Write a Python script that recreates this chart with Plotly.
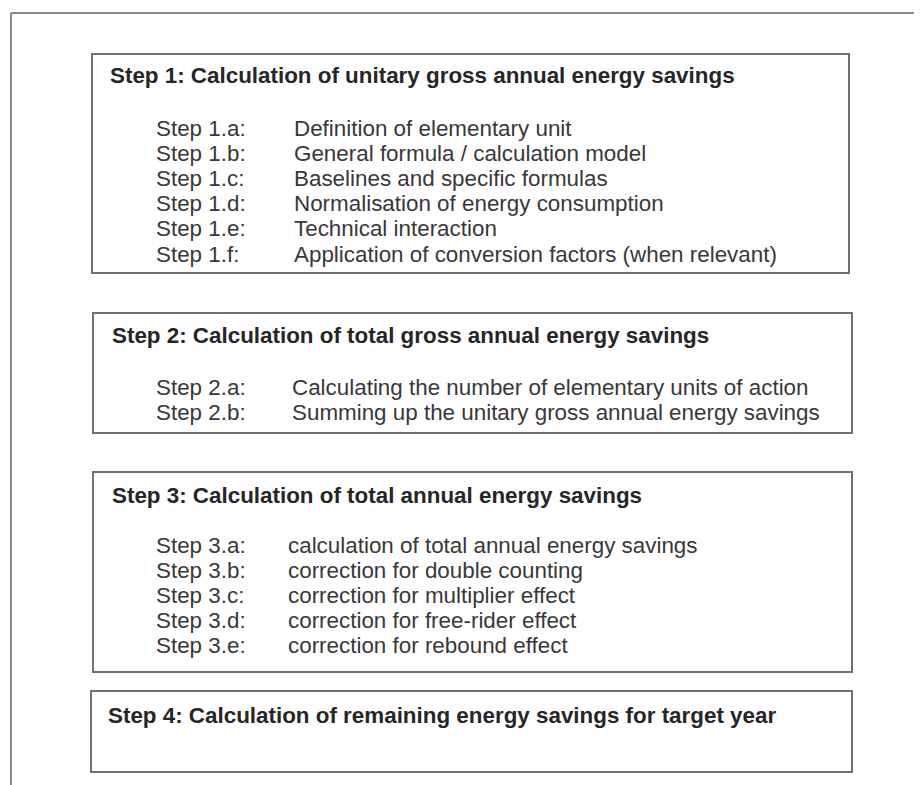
import plotly.graph_objects as go

# ---- content ----
box_titles = [
    "Step 1: Calculation of unitary gross annual energy savings",
    "Step 2: Calculation of total gross annual energy savings",
    "Step 3: Calculation of total annual energy savings",
    "Step 4: Calculation of remaining energy savings for target year",
]
step1_labels = ["Step 1.a:", "Step 1.b:", "Step 1.c:", "Step 1.d:", "Step 1.e:", "Step 1.f:"]
step1_texts = [
    "Definition of elementary unit",
    "General formula / calculation model",
    "Baselines and specific formulas",
    "Normalisation of energy consumption",
    "Technical interaction",
    "Application of conversion factors (when relevant)",
]
step2_labels = ["Step 2.a:", "Step 2.b:"]
step2_texts = [
    "Calculating the number of elementary units of action",
    "Summing up the unitary gross annual energy savings",
]
step3_labels = ["Step 3.a:", "Step 3.b:", "Step 3.c:", "Step 3.d:", "Step 3.e:"]
step3_texts = [
    "calculation of total annual energy savings",
    "correction for double counting",
    "correction for multiplier effect",
    "correction for free-rider effect",
    "correction for rebound effect",
]

# ---- layout geometry (page pixels) ----
W, H = 922, 785
OFF = 8  # default page body margin
boxes = [(92, 54, 849, 273), (93, 313, 852, 433), (93, 472, 852, 672), (91, 691, 852, 772)]
title_pos = [(108, 75), (110, 335), (110, 495), (106, 715)]
groups = [
    (step1_labels, step1_texts, 128, 292),
    (step2_labels, step2_texts, 387, 290),
    (step3_labels, step3_texts, 545, 286),
]
label_x = 154
row_gap = 25.2

FONT = "Liberation Sans, Arial, sans-serif"
FS = 22.4

fig = go.Figure()
fig.add_trace(go.Scatter(x=[OFF, W], y=[OFF, H], mode="markers", marker=dict(opacity=0), hoverinfo="skip", showlegend=False))

shapes = []
shapes.append(dict(type="line", x0=11, y0=13, x1=W + 5, y1=13, line=dict(color="#8a8a8a", width=2)))
shapes.append(dict(type="line", x0=11, y0=13, x1=11, y1=H + 5, line=dict(color="#8a8a8a", width=2)))
for (x0, y0, x1, y1) in boxes:
    shapes.append(dict(type="rect", x0=x0, y0=y0, x1=x1, y1=y1, line=dict(color="#707070", width=2), fillcolor="rgba(0,0,0,0)"))

annotations = []
for t, (x, y) in zip(box_titles, title_pos):
    annotations.append(dict(x=x, y=y, text="<b>" + t + "</b>", xanchor="left", yanchor="middle", showarrow=False,
                            font=dict(family=FONT, size=FS, color="#262626")))
for labels, texts, y0, tx in groups:
    for i, (lab, txt) in enumerate(zip(labels, texts)):
        y = y0 + i * row_gap
        annotations.append(dict(x=label_x, y=y, text=lab, xanchor="left", yanchor="middle", showarrow=False,
                                font=dict(family=FONT, size=FS, color="#383838")))
        annotations.append(dict(x=tx, y=y, text=txt, xanchor="left", yanchor="middle", showarrow=False,
                                font=dict(family=FONT, size=FS, color="#383838")))

fig.update_layout(
    width=W - OFF, height=H - OFF, margin=dict(l=0, r=0, t=0, b=0),
    paper_bgcolor="white", plot_bgcolor="white",
    xaxis=dict(range=[OFF, W], visible=False, fixedrange=True),
    yaxis=dict(range=[H, OFF], visible=False, fixedrange=True),
    shapes=shapes, annotations=annotations, showlegend=False,
)
fig.write_html("out.html")
